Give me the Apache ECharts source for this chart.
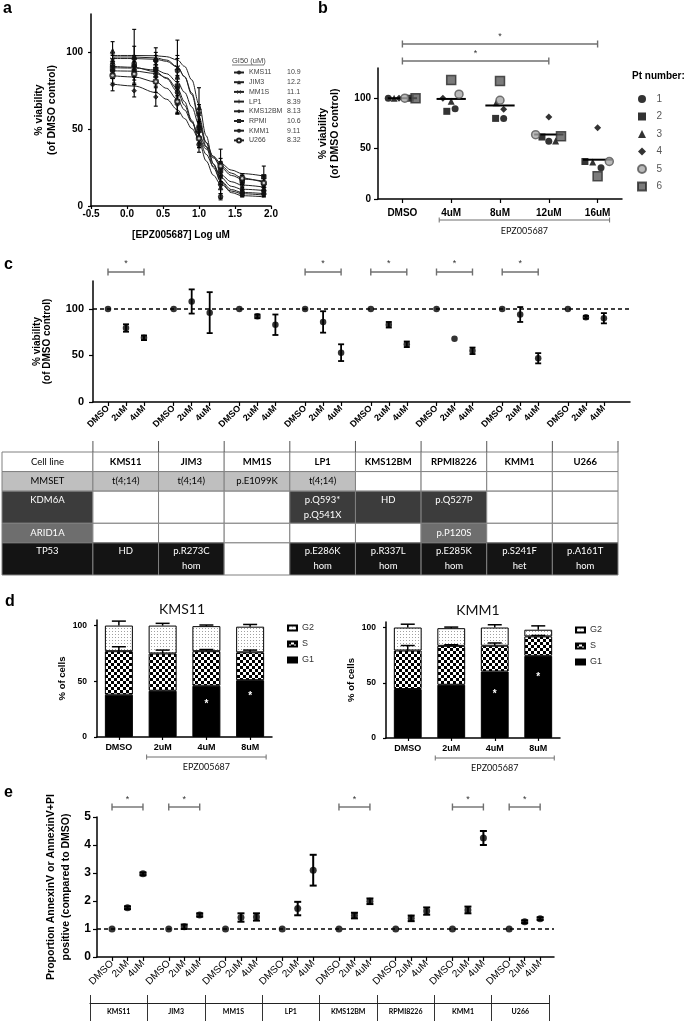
<!DOCTYPE html>
<html>
<head>
<meta charset="utf-8">
<script src="https://cdn.jsdelivr.net/npm/echarts@6/dist/echarts.min.js"></script>
<style>
html,body{margin:0;padding:0;background:#fff;}
#chart{width:685px;height:1021px;}
</style>
</head>
<body>
<div id="chart"></div>
<script>
// ================= DATA =================
// Panel a: dose response (log uM)
const A_LINES = ['KMS11','JIM3','MM1S','LP1','KMS12BM','RPMI','KMM1','U266'];
const A_GI50 = ['10.9','12.2','11.1','8.39','8.13','10.6','9.11','8.32'];
const A_LOG_DOSE = [-0.2, 0.1, 0.4, 0.7, 1.0, 1.3, 1.6, 1.9];
const A_MEAN = [
  [92, 96, 95, 88, 52, 14, 9, 10],
  [101, 97, 96, 84, 64, 12, 8, 9],
  [95, 90, 93, 90, 60, 19, 12, 11],
  [88, 91, 84, 69, 48, 22, 15, 14],
  [79, 75, 71, 66, 45, 28, 17, 15],
  [90, 92, 89, 78, 50, 24, 17, 19],
  [88, 88, 86, 74, 40, 6, 8, 8],
  [85, 86, 81, 68, 44, 26, 18, 15]
];
const A_ERR = [
  [6, 8, 5, 10, 8, 6, 2, 3],
  [6, 18, 7, 24, 13, 7, 2, 3],
  [4, 6, 5, 6, 6, 5, 3, 2],
  [5, 7, 6, 8, 7, 6, 3, 4],
  [4, 4, 6, 6, 7, 9, 3, 4],
  [4, 5, 5, 7, 6, 5, 3, 7],
  [5, 6, 6, 7, 5, 2, 2, 2],
  [5, 6, 7, 8, 6, 5, 3, 5]
];
const A_CURVE_X = [-0.2, 0.1, 0.4, 0.55, 0.7, 0.8, 0.9, 1.0, 1.1, 1.2, 1.3, 1.45, 1.6, 1.9];
const A_CURVE = [
  [97, 97, 96.4, 95.0, 90.7, 84.1, 72.5, 56.1, 38.6, 24.9, 16.4, 10.7, 8.8, 8.1],
  [98, 98, 97.8, 97.2, 95.1, 90.9, 82.1, 66.3, 45.7, 27.3, 15.9, 8.7, 6.7, 6.0],
  [96, 96, 95.5, 94.2, 90.4, 84.3, 73.6, 58.2, 41.2, 27.4, 18.8, 12.8, 10.9, 10.1],
  [90.9, 90.3, 87.4, 83.0, 74.4, 65.6, 54.9, 43.6, 33.6, 25.8, 20.4, 15.8, 13.6, 12.3],
  [79.4, 78.1, 73.9, 69.5, 62.7, 56.9, 50.4, 43.6, 37.1, 31.3, 26.5, 21.4, 18.2, 15.3],
  [90, 89.8, 88.5, 86.1, 80.7, 74.0, 64.5, 53, 41.5, 32.0, 25.3, 19.9, 17.5, 16.2],
  [88, 87.8, 86.3, 83.5, 76.5, 67.9, 55.8, 41.9, 29.3, 20.0, 14.1, 9.7, 8.0, 7.1],
  [84.8, 84.0, 80.8, 76.6, 69.3, 62.5, 54.5, 46.2, 38.6, 32.4, 27.8, 23.4, 21.1, 19.5]
];

// Panel b: patient samples
const B_DOSES = ['DMSO','4uM','8uM','12uM','16uM'];
const B_PATIENTS = ['1','2','3','4','5','6'];
const B_VALUES = [
  [100, 89.5, 80, 57.2, 30.9],
  [100, 87, 80, 61.5, 37.2],
  [100, 97, 95.4, 57.6, 36.8],
  [100, 100, 89, 81.3, 70.7],
  [100, 104, 98, 63.8, 37.2],
  [100, 118, 117, 62.2, 22.7]
];
const B_JITTER = [
  [-0.29, 0.08, 0.075, 0, 0.07],
  [0.16, -0.09, -0.09, -0.14, -0.26],
  [-0.17, 0, -0.075, 0.14, -0.1],
  [-0.07, -0.17, 0.075, 0, 0],
  [0.05, 0.16, 0, -0.27, 0.24],
  [0.27, 0, 0, 0.25, 0]
];
const B_MEDIAN = [100, 99.3, 92.8, 64, 39];
const B_SIG = [[0, 4], [0, 3]];
const B_TREATED = [[1, 4]];

// Panel c: viability by cell line
const CELL_LINES = ['KMS11','JIM3','MM1S','LP1','KMS12BM','RPMI8226','KMM1','U266'];
const C_DOSES = ['DMSO','2uM','4uM'];
const C_MEAN = [[100,79.5,69],[100,108,96],[100,92,83],[100,86,53],[100,83,62],[100,68,55],[100,94,47],[100,91,90]];
const C_ERR = [[0,4,2.5],[0,13,22],[0,2,11],[0,11.5,9],[0,3,3],[0,0,3.5],[0,8,5.5],[0,1.5,5.5]];
const C_SIG = ['KMS11','LP1','KMS12BM','RPMI8226','KMM1'];

// Table
const TABLE_HEADER = 'Cell line';
const TABLE_ROW_NAMES = ['MMSET','KDM6A','ARID1A','TP53'];
const TABLE_CELLS = [
  ['t(4;14)','t(4;14)','p.E1099K','t(4;14)','','','',''],
  ['','','','p.Q593*\np.Q541X','HD','p.Q527P','',''],
  ['','','','','','p.P120S','',''],
  ['HD','p.R273C\nhom','','p.E286K\nhom','p.R337L\nhom','p.E285K\nhom','p.S241F\nhet','p.A161T\nhom']
];

// Panel d: cell cycle
const D_DOSES = ['DMSO','2uM','4uM','8uM'];
const D_PHASES = ['G2','S','G1'];
const D_KMS11_G1 = [38, 41.5, 46, 51];
const D_KMS11_S = [39, 33.5, 31, 25];
const D_KMS11_G2 = [23, 25, 22.5, 23];
const D_KMS11_S_ERR = [4, 3, 1.5, 2];
const D_KMS11_G2_ERR = [4, 2, 1, 2];
const D_KMS11_STAR = [null, null, 29, 37];
const D_KMM1_G1 = [44.3, 48.2, 60.2, 74.4];
const D_KMM1_S = [34.9, 35.2, 23.3, 17.6];
const D_KMM1_G2 = [20.8, 16, 16.5, 6];
const D_KMM1_S_ERR = [4.5, 1, 2.5, 0.8];
const D_KMM1_G2_ERR = [3, 1, 2.5, 3.5];
const D_KMM1_STAR = [null, null, 40, 55];

// Panel e: apoptosis
const E_DOSES = ['DMSO','2uM','4uM'];
const E_MEAN = [[1,1.76,2.97],[1,1.08,1.5],[1,1.41,1.43],[1,1.73,3.1],[1,1.48,1.99],[1,1.38,1.64],[1,1.68,4.25],[1,1.26,1.37]];
const E_ERR = [[0,0.05,0.05],[0,0.08,0.06],[0,0.15,0.13],[0,0.24,0.55],[0,0.1,0.1],[0,0.1,0.13],[0,0.12,0.25],[0,0.05,0.05]];
const E_SIG = ['KMS11','JIM3','KMS12BM','KMM1','U266'];

// ================= STYLE / LAYOUT =================
const FONT = '"Liberation Sans", Arial, sans-serif';
const TFONT = 'Lato, "Open Sans", sans-serif';
const C_STEP = 3.65, E_STEP = 3.665;
const TBL_LABEL_W = 1.385, ROW_PAD = 0.56;
const A_SYMBOLS = ['circle','triangle','path://M1,0L5,4L9,0L10,1L6,5L10,9L9,10L5,6L1,10L0,9L4,5L0,1Z','path://M4,0H6V4H10V6H6V10H4V6H0V4H4Z','diamond','rect','circle','emptyCircle'];
const B_STYLE = [
  {symbol:'circle', size:7, color:'#000'},
  {symbol:'rect', size:7, color:'#000'},
  {symbol:'triangle', size:7, color:'#000'},
  {symbol:'diamond', size:7, color:'#000'},
  {symbol:'circle', size:8, color:'#a8a8a8', border:'#555'},
  {symbol:'rect', size:9, color:'#5a5a5a', border:'#2a2a2a'}
];
const ROW_FILL = ['#ffffff','#bfbfbf','#3c3c3c','#6e6e6e','#141414'];
const ROW_TEXT = ['#000','#000','#fff','#fff','#fff'];

function merge(a, b) {
  const r = Object.assign({}, a);
  for (const k in b) {
    const v = b[k];
    if (v && typeof v === 'object' && !Array.isArray(v) && a[k] && typeof a[k] === 'object' && !Array.isArray(a[k])) r[k] = merge(a[k], v);
    else r[k] = v;
  }
  return r;
}
const AX = {
  type: 'value', splitLine: {show: false},
  axisLine: {show: true, onZero: false, lineStyle: {color: '#000', width: 1.5}},
  axisTick: {show: true, length: 4, lineStyle: {color: '#000', width: 1.2}},
  axisLabel: {color: '#000', fontFamily: FONT, fontWeight: 'bold', fontSize: 10},
  nameTextStyle: {color: '#000', fontFamily: FONT, fontWeight: 'bold', fontSize: 10}
};
function ax(o) { return merge(AX, o); }

function makePattern(size, draw) {
  const c = document.createElement('canvas');
  c.width = size; c.height = size;
  draw(c.getContext('2d'));
  return {image: c, repeat: 'repeat'};
}
const S_PATTERN = makePattern(6, ctx => {
  ctx.fillStyle = '#fff'; ctx.fillRect(0, 0, 6, 6);
  ctx.fillStyle = '#000'; ctx.fillRect(0, 0, 3, 3); ctx.fillRect(3, 3, 3, 3);
});
const G2_PATTERN = makePattern(3, ctx => {
  ctx.fillStyle = '#fff'; ctx.fillRect(0, 0, 3, 3);
  ctx.fillStyle = '#a0a0a0'; ctx.fillRect(1, 1, 1, 1);
});

// ================= HELPERS =================
function errSeries(xi, data, capHalf, lw, onlyUp) {
  return {
    type: 'custom', xAxisIndex: xi, yAxisIndex: xi, data: data, clip: false, silent: true, z: 4,
    renderItem(params, api) {
      const x = api.value(0), lo = api.value(1), hi = api.value(2);
      const a = api.coord([x, lo]), b = api.coord([x, hi]);
      const st = {stroke: '#000', lineWidth: lw};
      const ch = [
        {type: 'line', shape: {x1: a[0], y1: a[1], x2: b[0], y2: b[1]}, style: st},
        {type: 'line', shape: {x1: b[0] - capHalf, y1: b[1], x2: b[0] + capHalf, y2: b[1]}, style: st}
      ];
      if (!onlyUp) ch.push({type: 'line', shape: {x1: a[0] - capHalf, y1: a[1], x2: a[0] + capHalf, y2: a[1]}, style: st});
      return {type: 'group', children: ch};
    }
  };
}
function sigBracket(xi, data, yMax, offsets, starGap) {
  return {
    type: 'custom', xAxisIndex: xi, yAxisIndex: xi, data: data, clip: false, silent: true, z: 5,
    renderItem(params, api) {
      const a = api.coord([api.value(0), yMax]), b = api.coord([api.value(1), yMax]);
      const y = a[1] - offsets[params.dataIndex % offsets.length];
      const st = {stroke: '#6f6f6f', lineWidth: 1.4};
      return {type: 'group', children: [
        {type: 'line', shape: {x1: a[0], y1: y, x2: b[0], y2: y}, style: st},
        {type: 'line', shape: {x1: a[0], y1: y - 3.5, x2: a[0], y2: y + 3.5}, style: st},
        {type: 'line', shape: {x1: b[0], y1: y - 3.5, x2: b[0], y2: y + 3.5}, style: st},
        {type: 'text', style: {text: '*', x: (a[0] + b[0]) / 2, y: y - starGap, align: 'center', verticalAlign: 'middle', font: '9px ' + FONT, fill: '#333'}}
      ]};
    }
  };
}
function treatBracket(xi, data, yMin, padPx, gapPx, textGap, label) {
  return {
    type: 'custom', xAxisIndex: xi, yAxisIndex: xi, data: data, clip: false, silent: true, z: 5,
    renderItem(params, api) {
      const a = api.coord([api.value(0), yMin]), b = api.coord([api.value(1), yMin]);
      const y = a[1] + gapPx, x1 = a[0] - padPx, x2 = b[0] + padPx;
      const st = {stroke: '#6f6f6f', lineWidth: 1};
      return {type: 'group', children: [
        {type: 'line', shape: {x1: x1, y1: y, x2: x2, y2: y}, style: st},
        {type: 'line', shape: {x1: x1, y1: y - 2.5, x2: x1, y2: y + 2.5}, style: st},
        {type: 'line', shape: {x1: x2, y1: y - 2.5, x2: x2, y2: y + 2.5}, style: st},
        {type: 'text', style: {text: label, x: (x1 + x2) / 2, y: y + textGap, align: 'center', verticalAlign: 'middle', font: '9px ' + TFONT, fill: '#111'}}
      ]};
    }
  };
}

// ================= BUILD =================
const series = [];
const legends = [];

// ---- Panel a ----
A_LINES.forEach((name, k) => {
  series.push({
    type: 'line', name: name, xAxisIndex: 0, yAxisIndex: 0,
    data: A_CURVE_X.map((x, j) => [x, A_CURVE[k][j]]),
    smooth: 0.35, smoothMonotone: 'x', symbol: A_SYMBOLS[k], symbolSize: 5, showSymbol: false,
    lineStyle: {color: '#222', width: 1}, itemStyle: {color: '#222'}, silent: true, z: 2
  });
  series.push({
    type: 'scatter', name: 'pts ' + name, xAxisIndex: 0, yAxisIndex: 0,
    data: A_LOG_DOSE.map((x, j) => [x, A_MEAN[k][j]]),
    symbol: A_SYMBOLS[k], symbolSize: 4.5, itemStyle: {color: '#111', borderColor: '#111'}, silent: true, z: 4
  });
});
const aErr = [];
A_LINES.forEach((n, k) => A_LOG_DOSE.forEach((x, j) => aErr.push([x, A_MEAN[k][j] - A_ERR[k][j], A_MEAN[k][j] + A_ERR[k][j]])));
series.push(errSeries(0, aErr, 2, 1.1, false));
legends.push({
  data: A_LINES, orient: 'vertical', left: 233, top: 69, padding: 0,
  itemWidth: 10, itemHeight: 5, itemGap: 2.7, selectedMode: false,
  formatter: name => '{n|' + name + '}{v|' + A_GI50[A_LINES.indexOf(name)] + '}',
  textStyle: {fontFamily: FONT, fontSize: 7, color: '#444',
    rich: {n: {width: 38, fontSize: 7, color: '#444', lineHeight: 6, fontFamily: FONT}, v: {fontSize: 7, color: '#444', lineHeight: 6, fontFamily: FONT}}}
});

// ---- Panel b ----
B_PATIENTS.forEach((p, k) => {
  const s = B_STYLE[k];
  series.push({
    type: 'scatter', name: p, xAxisIndex: 1, yAxisIndex: 1,
    data: B_DOSES.map((d, j) => [j + B_JITTER[k][j], B_VALUES[k][j]]),
    symbol: s.symbol, symbolSize: s.size,
    itemStyle: {color: s.color, borderColor: s.border || s.color, borderWidth: s.border ? 1.5 : 0}, silent: true, z: 4
  });
});
series.push({
  type: 'custom', xAxisIndex: 1, yAxisIndex: 1, clip: false, silent: true, z: 3,
  data: B_MEDIAN.map((m, j) => [j, m]),
  renderItem(params, api) {
    const a = api.coord([api.value(0) - 0.3, api.value(1)]), b = api.coord([api.value(0) + 0.3, api.value(1)]);
    return {type: 'line', shape: {x1: a[0], y1: a[1], x2: b[0], y2: b[1]}, style: {stroke: '#000', lineWidth: 2}};
  }
});
series.push(sigBracket(1, B_SIG, 130, [24, 7], 7));
series.push(treatBracket(1, B_TREATED, 0, 12, 21, 11, 'EPZ005687'));
legends.push({
  data: B_PATIENTS, orient: 'vertical', left: 637, top: 94, padding: 0,
  itemWidth: 8, itemHeight: 8, itemGap: 7.5, selectedMode: false,
  formatter: name => '  ' + name,
  textStyle: {fontFamily: FONT, fontSize: 10, color: '#555', lineHeight: 8}
});

// ---- Panel c ----
const cPts = [], cErr = [], cTicks = [], cLabel = new Map();
CELL_LINES.forEach((cl, g) => C_DOSES.forEach((d, i) => {
  const x = g * C_STEP + i;
  cPts.push([x, C_MEAN[g][i]]);
  if (C_ERR[g][i] > 0) cErr.push([x, C_MEAN[g][i] - C_ERR[g][i], C_MEAN[g][i] + C_ERR[g][i]]);
  cTicks.push(x); cLabel.set(x.toFixed(3), d);
}));
series.push({
  type: 'scatter', xAxisIndex: 2, yAxisIndex: 2, data: cPts, symbol: 'circle', symbolSize: 6.5,
  itemStyle: {color: '#000'}, silent: true, z: 5,
  markLine: {silent: true, symbol: ['none', 'none'], label: {show: false}, animation: false,
    lineStyle: {type: [4, 3], color: '#000', width: 1.5}, data: [{yAxis: 100}]}
});
series.push(errSeries(2, cErr, 3, 1.8, false));
series.push(sigBracket(2, C_SIG.map(n => { const g = CELL_LINES.indexOf(n); return [g * C_STEP, g * C_STEP + 2]; }), 130, [9], 8));

// ---- Table (under c) ----
const tableRows = [{name: TABLE_HEADER, cells: CELL_LINES}].concat(TABLE_ROW_NAMES.map((n, r) => ({name: n, cells: TABLE_CELLS[r]})));
const rowLines = tableRows.map(r => Math.max(1, ...r.cells.map(c => c ? c.split('\n').length : 1)));
let acc = 0;
const rowY = rowLines.map(l => { const y0 = acc; acc += l + ROW_PAD; return [y0, acc]; });
const TABLE_H = acc;
const tblData = [], tblMeta = [];
tableRows.forEach((row, r) => {
  tblData.push([-TBL_LABEL_W, 0, rowY[r][0], rowY[r][1]]);
  tblMeta.push({text: row.name, fill: ROW_FILL[r], color: ROW_TEXT[r], bold: false, lines: rowLines[r]});
  row.cells.forEach((t, g) => {
    tblData.push([g, g + 1, rowY[r][0], rowY[r][1]]);
    const filled = r > 0 && t;
    tblMeta.push({text: t, fill: filled ? ROW_FILL[r] : '#fff', color: filled ? ROW_TEXT[r] : '#000', bold: r === 0, lines: rowLines[r]});
  });
});
series.push({
  type: 'custom', xAxisIndex: 3, yAxisIndex: 3, data: tblData, clip: false, silent: true,
  encode: {x: [0, 1], y: [2, 3]},
  renderItem(params, api) {
    const m = tblMeta[params.dataIndex];
    const a = api.coord([api.value(0), api.value(2)]), b = api.coord([api.value(1), api.value(3)]);
    const x = a[0], y = a[1], w = b[0] - a[0], h = b[1] - a[1];
    const multi = m.lines > 1;
    return {type: 'group', children: [
      {type: 'rect', shape: {x: x, y: y, width: w, height: h}, style: {fill: m.fill, stroke: '#808080', lineWidth: 1}},
      {type: 'text', style: {text: m.text, x: x + w / 2, y: multi ? y + 1 : y + h / 2, align: 'center',
        verticalAlign: multi ? 'top' : 'middle', font: (m.bold ? 'bold ' : '') + '9.5px ' + TFONT, fill: m.color, lineHeight: 15}}
    ]};
  }
});
series.push({
  type: 'custom', xAxisIndex: 3, yAxisIndex: 3, clip: false, silent: true,
  data: CELL_LINES.map((c, g) => [g, 0]).concat([[CELL_LINES.length, 0]]),
  renderItem(params, api) {
    const p = api.coord([api.value(0), 0]);
    return {type: 'line', shape: {x1: p[0], y1: p[1] - 11, x2: p[0], y2: p[1]}, style: {stroke: '#555', lineWidth: 1}};
  }
});

// ---- Panel d ----
function dBlock(k, G1, S, G2, SE, G2E, STAR) {
  const xi = 4 + k;
  const base = {type: 'bar', xAxisIndex: xi, yAxisIndex: xi, stack: 'd' + k, barWidth: '64%', silent: true, z: 2};
  series.push(merge(base, {name: 'G1', data: G1, itemStyle: {color: '#000', borderColor: '#000', borderWidth: 1}}));
  series.push(merge(base, {name: 'S', data: S, itemStyle: {color: S_PATTERN, borderColor: '#000', borderWidth: 1}}));
  series.push(merge(base, {name: 'G2', data: G2, itemStyle: {color: G2_PATTERN, borderColor: '#000', borderWidth: 1}}));
  const err = [];
  D_DOSES.forEach((d, j) => {
    const sTop = G1[j] + S[j], top = sTop + G2[j];
    err.push([j, sTop, sTop + SE[j]]);
    err.push([j, top, top + G2E[j]]);
  });
  series.push(errSeries(xi, err, 7, 1.5, true));
  series.push({
    type: 'custom', xAxisIndex: xi, yAxisIndex: xi, clip: false, silent: true, z: 6,
    data: STAR.map((v, j) => [j, v]).filter(d => d[1] != null),
    renderItem(params, api) {
      const p = api.coord([api.value(0), api.value(1)]);
      return {type: 'text', style: {text: '*', x: p[0], y: p[1], align: 'center', verticalAlign: 'middle', font: 'bold 10px ' + FONT, fill: '#fff'}};
    }
  });
  series.push(treatBracket(xi, [[1, 3]], 0, 16, 20, 10, 'EPZ005687'));
}
dBlock(0, D_KMS11_G1, D_KMS11_S, D_KMS11_G2, D_KMS11_S_ERR, D_KMS11_G2_ERR, D_KMS11_STAR);
dBlock(1, D_KMM1_G1, D_KMM1_S, D_KMM1_G2, D_KMM1_S_ERR, D_KMM1_G2_ERR, D_KMM1_STAR);
[287, 575].forEach((left, k) => legends.push({
  data: D_PHASES, orient: 'vertical', left: left, top: k ? 625 : 623, padding: 0, icon: 'rect',
  itemWidth: 9, itemHeight: 5, itemGap: 6, selectedMode: false,
  textStyle: {fontFamily: FONT, fontSize: 9, color: '#333', lineHeight: 10}
}));

// ---- Panel e ----
const ePts = [], eErr = [], eTicks = [], eLabel = new Map();
CELL_LINES.forEach((cl, g) => E_DOSES.forEach((d, i) => {
  const x = g * E_STEP + i;
  ePts.push([x, E_MEAN[g][i]]);
  if (E_ERR[g][i] > 0) eErr.push([x, E_MEAN[g][i] - E_ERR[g][i], E_MEAN[g][i] + E_ERR[g][i]]);
  eTicks.push(x); eLabel.set(x.toFixed(3), d);
}));
series.push({
  type: 'scatter', xAxisIndex: 6, yAxisIndex: 6, data: ePts, symbol: 'circle', symbolSize: 7,
  itemStyle: {color: '#000'}, silent: true, z: 5,
  markLine: {silent: true, symbol: ['none', 'none'], label: {show: false}, animation: false,
    lineStyle: {type: [4, 3], color: '#000', width: 1.5}, data: [{yAxis: 1}]}
});
series.push(errSeries(6, eErr, 3.5, 2, false));
series.push(sigBracket(6, E_SIG.map(n => { const g = CELL_LINES.indexOf(n); return [g * E_STEP, g * E_STEP + 2]; }), 5, [10], 7));

// ================= AXES =================
const xAxis = [
  ax({gridIndex: 0, min: -0.5, max: 2.0, interval: 0.5, axisTick: {length: 3},
    axisLabel: {margin: 3, formatter: v => v.toFixed(1)},
    name: '[EPZ005687] Log uM', nameLocation: 'middle', nameGap: 24}),
  ax({gridIndex: 1, min: -0.5, max: 4.5, axisTick: {customValues: [0, 1, 2, 3, 4]},
    axisLabel: {customValues: [0, 1, 2, 3, 4], margin: 9, formatter: v => B_DOSES[Math.round(v)]}}),
  ax({gridIndex: 2, min: -0.833, max: 29.0, axisTick: {customValues: cTicks},
    axisLabel: {customValues: cTicks, rotate: 45, margin: 5, fontSize: 9, formatter: v => cLabel.get(v.toFixed(3)) || ''}}),
  {gridIndex: 3, type: 'value', min: -TBL_LABEL_W, max: CELL_LINES.length, show: false},
  ax({gridIndex: 4, type: 'category', data: D_DOSES, axisTick: {alignWithLabel: true, length: 3},
    axisLabel: {fontSize: 9, margin: 6}}),
  ax({gridIndex: 5, type: 'category', data: D_DOSES, axisTick: {alignWithLabel: true, length: 3},
    axisLabel: {fontSize: 9, margin: 6}}),
  ax({gridIndex: 6, min: -0.97, max: 28.55, axisTick: {customValues: eTicks},
    axisLabel: {customValues: eTicks, rotate: 45, margin: 5, fontSize: 10, fontWeight: 'normal', formatter: v => eLabel.get(v.toFixed(3)) || ''}}),
  {gridIndex: 7, type: 'category', position: 'top', data: CELL_LINES, boundaryGap: true,
    axisLine: {show: true, onZero: false, lineStyle: {color: '#222', width: 1.2}},
    axisTick: {show: true, interval: 0, length: 8, lineStyle: {color: '#333', width: 1}},
    splitLine: {show: true, interval: 0, lineStyle: {color: '#333', width: 1}},
    axisLabel: {inside: true, interval: 0, margin: 5, fontFamily: TFONT, fontWeight: 'bold', fontSize: 7, color: '#000'}}
];
const yAxis = [
  ax({gridIndex: 0, min: 0, max: 125, axisTick: {customValues: [0, 50, 100], length: 3},
    axisLabel: {customValues: [0, 50, 100], margin: 8},
    name: '% viability\n(of DMSO control)', nameLocation: 'middle', nameGap: 32,
    nameTextStyle: {fontSize: 10.5, lineHeight: 13}}),
  ax({gridIndex: 1, min: 0, max: 130, axisTick: {customValues: [0, 50, 100]},
    axisLabel: {customValues: [0, 50, 100], margin: 7},
    name: '% viability\n(of DMSO control)', nameLocation: 'middle', nameGap: 37,
    nameTextStyle: {fontSize: 10.5, lineHeight: 12}}),
  ax({gridIndex: 2, min: 0, max: 130, axisTick: {customValues: [0, 50, 100]},
    axisLabel: {customValues: [0, 50, 100], margin: 9, fontSize: 11},
    name: '% viability\n(of DMSO control)', nameLocation: 'middle', nameGap: 41,
    nameTextStyle: {fontSize: 10, lineHeight: 10}}),
  {gridIndex: 3, type: 'value', min: 0, max: TABLE_H, inverse: true, show: false},
  ax({gridIndex: 4, min: 0, max: 105, axisTick: {customValues: [0, 50, 100], length: 3},
    axisLabel: {customValues: [0, 50, 100], margin: 10, fontSize: 8.5},
    name: '% of cells', nameLocation: 'middle', nameGap: 30, nameTextStyle: {fontSize: 9.5}}),
  ax({gridIndex: 5, min: 0, max: 105, axisTick: {customValues: [0, 50, 100], length: 3},
    axisLabel: {customValues: [0, 50, 100], margin: 10, fontSize: 8.5},
    name: '% of cells', nameLocation: 'middle', nameGap: 30, nameTextStyle: {fontSize: 9.5}}),
  ax({gridIndex: 6, min: 0, max: 5, interval: 1, axisTick: {length: 4},
    axisLabel: {margin: 6, fontSize: 12},
    name: 'Proportion AnnexinV or AnnexinV+PI\npositive (compared to DMSO)', nameLocation: 'middle', nameGap: 20,
    nameTextStyle: {fontSize: 10.5, lineHeight: 15}}),
  {gridIndex: 7, type: 'value', show: false}
];
const grid = [
  {left: 91, top: 14, width: 180, height: 192},
  {left: 378, top: 68, width: 244, height: 131},
  {left: 93, top: 281, width: 537, height: 121},
  {left: 2, top: 452, width: 616, height: 123},
  {left: 97, top: 620, width: 175, height: 117},
  {left: 386, top: 622, width: 174, height: 116},
  {left: 97, top: 817, width: 457, height: 140},
  {left: 90, top: 1003, width: 459, height: 18}
];

function label(text, x, y, font, fill) {
  return {type: 'text', x: x, y: y, silent: true,
    style: {text: text, font: font, fill: fill || '#000', verticalAlign: 'middle'}};
}
const graphic = [
  label('a', 3, 9, 'bold 16px ' + FONT),
  label('b', 318, 9, 'bold 16px ' + FONT),
  label('c', 4, 265, 'bold 16px ' + FONT),
  label('d', 5, 602, 'bold 16px ' + FONT),
  label('e', 4, 793, 'bold 16px ' + FONT),
  label('GI50 (uM)', 232, 61, '7.5px ' + FONT, '#444'),
  {type: 'line', silent: true, shape: {x1: 232, y1: 65, x2: 264, y2: 65}, style: {stroke: '#444', lineWidth: 0.7}},
  label('Pt number:', 632, 76, 'bold 10px ' + FONT),
  {type: 'text', x: 182, y: 609, silent: true, style: {text: 'KMS11', font: '14px ' + TFONT, fill: '#111', align: 'center', verticalAlign: 'middle'}},
  {type: 'text', x: 478, y: 610, silent: true, style: {text: 'KMM1', font: '14px ' + TFONT, fill: '#111', align: 'center', verticalAlign: 'middle'}}
];

const chart = echarts.init(document.getElementById('chart'), null, {renderer: 'canvas', width: 685, height: 1021});
chart.setOption({
  animation: false,
  backgroundColor: '#fff',
  grid: grid, xAxis: xAxis, yAxis: yAxis,
  legend: legends, series: series, graphic: graphic
});
</script>
</body>
</html>
